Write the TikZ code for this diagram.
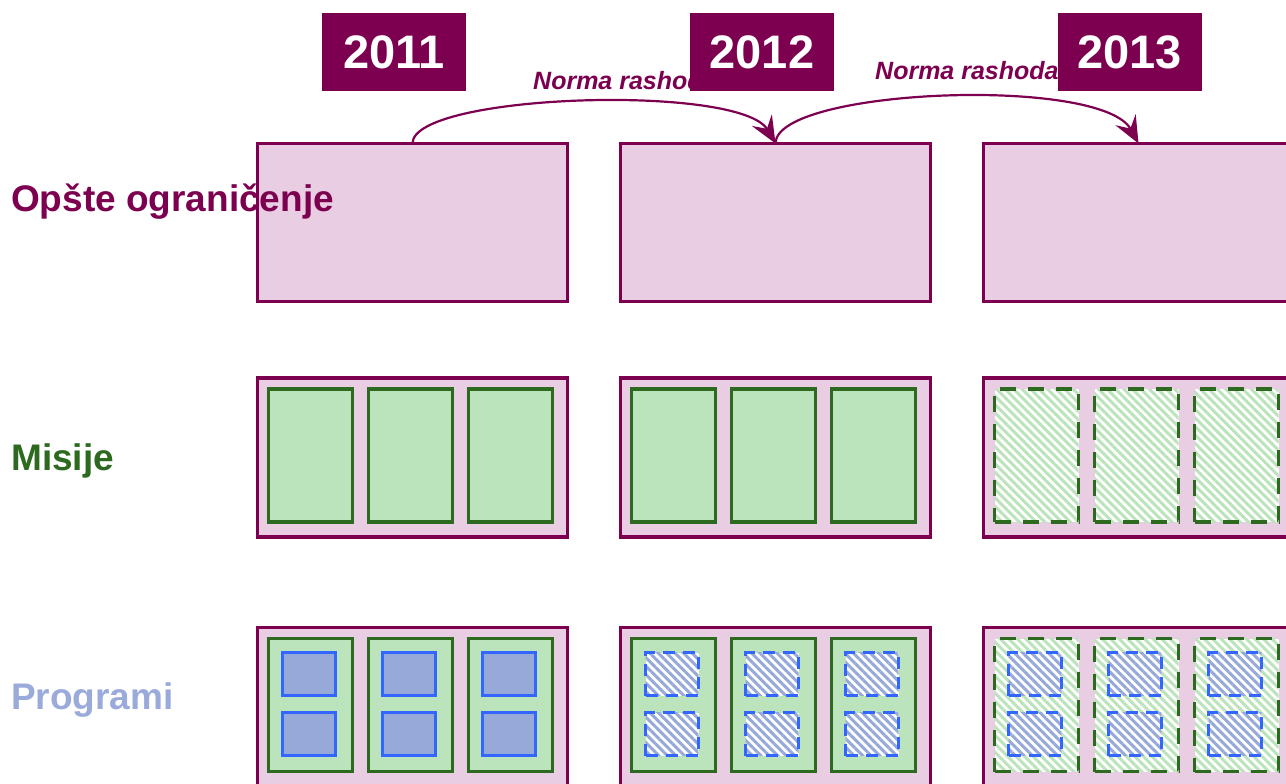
\documentclass[tikz,border=0pt]{standalone}
\usepackage{fontspec}
\setmainfont{Liberation Sans}
\usetikzlibrary{arrows.meta,patterns.meta}
\definecolor{purp}{HTML}{7D0050}
\definecolor{pinkf}{HTML}{E8CDE3}
\definecolor{grn}{HTML}{2D6A1F}
\definecolor{grnf}{HTML}{BCE4BC}
\definecolor{blu}{HTML}{3366FF}
\definecolor{bluf}{HTML}{96A9D8}
\definecolor{lblc}{HTML}{99AADB}
\tikzset{
  boxbase/.style={rectangle, inner sep=0pt, outer sep=0pt, anchor=north west},
  limbox/.style={boxbase, draw=purp, fill=pinkf, line width=3.3pt, minimum width=310pt, minimum height=158pt},
  outbox/.style={boxbase, draw=purp, fill=pinkf, line width=3.3pt, minimum width=310pt, minimum height=159pt},
  progout/.style={boxbase, draw=purp, fill=pinkf, line width=3.3pt, minimum width=310pt, minimum height=180pt},
  missolid/.style={boxbase, draw=grn, fill=grnf, line width=3.8pt, minimum width=84pt, minimum height=133pt},
  mishatch/.style={boxbase, draw=grn, line width=3.8pt, dash pattern=on 16pt off 12pt,
     preaction={fill=white}, pattern={Lines[angle=-45,distance=6pt,line width=3pt]}, pattern color=grnf,
     minimum width=84pt, minimum height=133pt},
  progsolid/.style={boxbase, draw=blu, fill=bluf, line width=3.8pt, minimum width=53pt, minimum height=43pt},
  proghatch/.style={boxbase, draw=blu, line width=3.8pt, dash pattern=on 12pt off 8pt,
     preaction={fill=white}, pattern={Lines[angle=-45,distance=6pt,line width=3pt]}, pattern color=bluf,
     minimum width=53pt, minimum height=43pt},
  yearbox/.style={rectangle, fill=purp, text=white, font=\fontsize{47}{50}\selectfont\bfseries,
     minimum width=144pt, minimum height=78pt, inner sep=0pt},
  normalbl/.style={text=purp, font=\fontsize{25}{28}\selectfont\bfseries\itshape, inner sep=0pt, anchor=base west},
  rowlbl/.style={font=\fontsize{37}{40}\selectfont\bfseries, inner sep=0pt, anchor=base west},
  arc/.style={draw=purp, line width=2.2pt, -{Stealth[length=27pt,width=23pt,inset=10pt]}}
}
\newcommand{\drawcolumn}[4]{%
  \node[limbox] (lim#1) at (#2,143.5) {};
  \node[outbox] (mout#1) at (#2,378) {};
  \node[progout] (pout#1) at (#2,627.5) {};
  \foreach \i in {0,1,2} {
    \pgfmathsetmacro\gx{#2+11+100*\i}
    \node[#3] (mis#1-\i) at (\gx,389) {};
    \node[#3] (pmis#1-\i) at (\gx,638.5) {};
    \node[#4] (proga#1-\i) at (\gx+14,652.5) {};
    \node[#4] (progb#1-\i) at (\gx+14,712.5) {};
  }
}
\begin{document}
\begin{tikzpicture}[x=1pt,y=-1pt]
\useasboundingbox (0,0) rectangle (1286,784);
\clip (0,0) rectangle (1286,784);
\fill[white] (0,0) rectangle (1286,784);
\drawcolumn{1}{257.5}{missolid}{progsolid}
\drawcolumn{2}{620.5}{missolid}{proghatch}
\drawcolumn{3}{983.5}{mishatch}{proghatch}
\node[rowlbl, text=purp] (lab1) at (11,211) {Opšte ograničenje};
\node[rowlbl, text=grn] (lab2) at (11,470) {Misije};
\node[rowlbl, text=lblc] (lab3) at (11,709) {Programi};
\node[normalbl] (n1) at (533,89) {Norma rashoda};
\node[normalbl] (n2) at (875,80) {Norma rashoda};
\node[yearbox] (y1) at (394,52) {2011};
\node[yearbox] (y2) at (762,52) {2012};
\node[yearbox] (y3) at (1129.5,52) {2013};
\draw[arc] (lim1.north) .. controls +(0,-50) and +(-35,-60) .. (lim2.north);
\draw[arc] (lim2.north) .. controls +(0,-55) and +(-37,-68) .. (lim3.north);
\end{tikzpicture}
\end{document}
